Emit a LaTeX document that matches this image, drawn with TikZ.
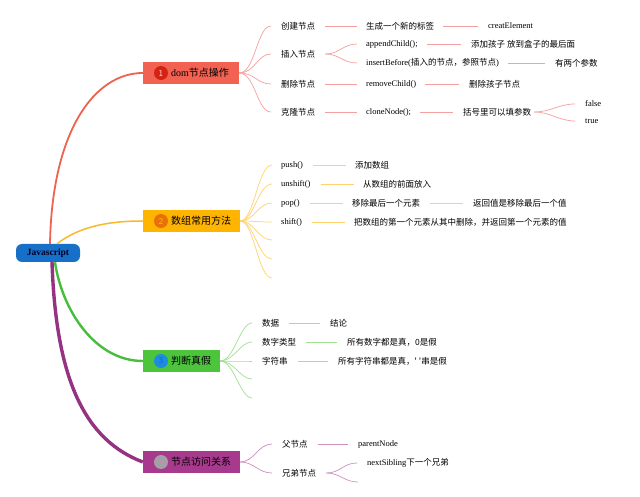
\documentclass[tikz,border=0pt]{standalone}
\usepackage{fontspec}
\setmainfont{Liberation Serif}
\newfontfamily\cjk{Noto Sans CJK SC}
\definecolor{rootblue}{RGB}{22,112,200}
\definecolor{redbox}{RGB}{241,98,82}
\definecolor{redline}{RGB}{236,100,80}
\definecolor{redleaf}{RGB}{244,160,160}
\definecolor{redcirc}{RGB}{212,34,20}
\definecolor{orbox}{RGB}{255,180,0}
\definecolor{orline}{RGB}{250,185,40}
\definecolor{orleaf}{RGB}{255,210,110}
\definecolor{orcirc}{RGB}{232,112,10}
\definecolor{grbox}{RGB}{76,196,60}
\definecolor{grline}{RGB}{70,190,60}
\definecolor{grleaf}{RGB}{160,225,145}
\definecolor{grcirc}{RGB}{30,140,220}
\definecolor{pubox}{RGB}{168,58,142}
\definecolor{puline}{RGB}{150,50,130}
\definecolor{puleaf}{RGB}{205,145,190}
\definecolor{pucirc}{RGB}{165,160,165}
\begin{document}
\begin{tikzpicture}[x=1pt,y=-1pt,
  leaf/.style={anchor=west, inner sep=0pt, font=\fontsize{8.5}{10}\selectfont},
  mbox/.style={minimum height=22pt, inner sep=0pt},
  mtext/.style={anchor=west, inner sep=0pt, font=\fontsize{10}{12}\selectfont},
  circ/.style={circle, minimum size=14pt, inner sep=0pt, font=\fontsize{9}{10}\selectfont\sffamily},
  l1/.style={draw=redleaf, line width=0.7pt},
  l2/.style={draw=orleaf, line width=0.7pt},
  l3/.style={draw=grleaf, line width=0.7pt},
  l4/.style={draw=puleaf, line width=0.7pt},
  fan/.style={line width=0.7pt}
]
\useasboundingbox (0,0) rectangle (640,497);
\fill[white] (0,0) rectangle (640,497);

% root
\node[fill=rootblue, rounded corners=6pt, minimum width=64pt, minimum height=18pt, inner sep=0pt,
      font=\fontsize{9.5}{11}\selectfont\bfseries, text=black!85!blue] (root) at (48,253) {Javascript};

% main boxes
\node[mbox, fill=redbox, minimum width=96pt] (b1) at (191,73) {};
\node[mbox, fill=orbox, minimum width=97pt] (b2) at (191.5,221) {};
\node[mbox, fill=grbox, minimum width=77pt] (b3) at (181.5,361) {};
\node[mbox, fill=pubox, minimum width=97pt] (b4) at (191.5,462) {};

\node[circ, fill=redcirc, text=white!85!red] (c1) at (161,73) {1};
\node[circ, fill=orcirc, text=orange!50!yellow] (c2) at (161,221) {2};
\node[circ, fill=grcirc, text=blue!60!cyan] (c3) at (161,361) {3};
\node[circ, fill=pucirc, text=pubox!60!white] (c4) at (161,462) {4};

\node[mtext] (t1) at (171,73) {dom{\cjk 节点操作}};
\node[mtext] (t2) at (171,221) {\cjk 数组常用方法};
\node[mtext] (t3) at (171,361) {\cjk 判断真假};
\node[mtext] (t4) at (171,462) {\cjk 节点访问关系};

% root connectors
\draw[redline, line width=1.8pt] ([xshift=2pt]root.north) .. controls (52,130) and (95,73) .. (b1.west);
\draw[orline, line width=1.5pt] ([xshift=9pt]root.north) .. controls (80,226) and (110,221) .. (b2.west);
\draw[grline, line width=2.4pt] ([xshift=7pt]root.south) .. controls (62,310) and (95,361) .. (b3.west);
\draw[puline, line width=3.4pt] ([xshift=4pt]root.south) .. controls (56,380) and (85,440) .. (b4.west);

% ---------- branch 1 ----------
\node[leaf] (k11) at (281,26) {\cjk 创建节点};
\node[leaf] (k12) at (281,54) {\cjk 插入节点};
\node[leaf] (k13) at (281,84) {\cjk 删除节点};
\node[leaf] (k14) at (281,112) {\cjk 克隆节点};
\foreach \k in {k11,k12,k13,k14}
  \draw[l1] (b1.east) .. controls +(16,0) and +(-14,0) .. ([xshift=-10pt]\k.west);

\node[leaf] (l11) at (366,26) {\cjk 生成一个新的标签};
\node[leaf] (l12a) at (366,44) {appendChild();};
\node[leaf] (l12b) at (366,63) {insertBefore({\cjk 插入的节点，参照节点})};
\node[leaf] (l13) at (366,84) {removeChild()};
\node[leaf] (l14) at (366,112) {cloneNode();};

\draw[l1] ([xshift=10pt]k11.east) -- ([xshift=-9pt]l11.west);
\draw[l1] ([xshift=10pt]k13.east) -- ([xshift=-9pt]l13.west);
\draw[l1] ([xshift=10pt]k14.east) -- ([xshift=-9pt]l14.west);
\draw[l1] ([xshift=10pt]k12.east) .. controls +(14,0) and +(-14,0) .. ([xshift=-9pt]l12a.west);
\draw[l1] ([xshift=10pt]k12.east) .. controls +(14,0) and +(-14,0) .. ([xshift=-9pt]l12b.west);

\node[leaf] (m11) at (488,26) {creatElement};
\node[leaf] (m12a) at (471,44) {\cjk 添加孩子 放到盒子的最后面};
\node[leaf] (m12b) at (555,63) {\cjk 有两个参数};
\node[leaf] (m13) at (469,84) {\cjk 删除孩子节点};
\node[leaf] (m14) at (463,112) {\cjk 括号里可以填参数};

\draw[l1] ([xshift=9pt]l11.east) -- ([xshift=-10pt]m11.west);
\draw[l1] ([xshift=9pt]l12a.east) -- ([xshift=-10pt]m12a.west);
\draw[l1] ([xshift=9pt]l12b.east) -- ([xshift=-10pt]m12b.west);
\draw[l1] ([xshift=9pt]l13.east) -- ([xshift=-10pt]m13.west);
\draw[l1] ([xshift=9pt]l14.east) -- ([xshift=-10pt]m14.west);

\node[leaf] (n14a) at (585,104) {false};
\node[leaf] (n14b) at (585,121) {true};
\draw[l1] ([xshift=3pt]m14.east) .. controls +(16,0) and +(-16,0) .. ([xshift=-10pt]n14a.west);
\draw[l1] ([xshift=3pt]m14.east) .. controls +(16,0) and +(-16,0) .. ([xshift=-10pt]n14b.west);

% ---------- branch 2 ----------
\node[leaf] (k21) at (281,165) {push()};
\node[leaf] (k22) at (281,184) {unshift()};
\node[leaf] (k23) at (281,203) {pop()};
\node[leaf] (k24) at (281,222) {shift()};
\coordinate (e21) at (272,240);
\coordinate (e22) at (272,259);
\coordinate (e23) at (272,278);
\foreach \k in {k21,k22,k23,k24}
  \draw[l2] (b2.east) .. controls +(14,0) and +(-14,0) .. ([xshift=-9pt]\k.west);
\foreach \k in {e21,e22,e23}
  \draw[l2] (b2.east) .. controls +(14,0) and +(-14,0) .. (\k);

\node[leaf] (l21) at (355,165) {\cjk 添加数组};
\node[leaf] (l22) at (363,184) {\cjk 从数组的前面放入};
\node[leaf] (l23) at (352,203) {\cjk 移除最后一个元素};
\node[leaf] (l24) at (354,222) {\cjk 把数组的第一个元素从其中删除，并返回第一个元素的值};
\node[leaf] (m23) at (473,203) {\cjk 返回值是移除最后一个值};

\draw[l2] ([xshift=10pt]k21.east) -- ([xshift=-9pt]l21.west);
\draw[l2] ([xshift=10pt]k22.east) -- ([xshift=-9pt]l22.west);
\draw[l2] ([xshift=10pt]k23.east) -- ([xshift=-9pt]l23.west);
\draw[l2] ([xshift=10pt]k24.east) -- ([xshift=-9pt]l24.west);
\draw[l2] ([xshift=10pt]l23.east) -- ([xshift=-10pt]m23.west);

% ---------- branch 3 ----------
\node[leaf] (k31) at (262,323) {\cjk 数据};
\node[leaf] (k32) at (262,342) {\cjk 数字类型};
\node[leaf] (k33) at (262,361) {\cjk 字符串};
\coordinate (e31) at (252,379);
\coordinate (e32) at (252,398);
\foreach \k in {k31,k32,k33}
  \draw[l3] (b3.east) .. controls +(14,0) and +(-12,0) .. ([xshift=-10pt]\k.west);
\foreach \k in {e31,e32}
  \draw[l3] (b3.east) .. controls +(14,0) and +(-12,0) .. (\k);

\node[leaf] (l31) at (330,323) {\cjk 结论};
\node[leaf] (l32) at (347,342) {\cjk 所有数字都是真，0是假};
\node[leaf] (l33) at (338,361) {\cjk 所有字符串都是真，' '串是假};
\draw[l3] ([xshift=10pt]k31.east) -- ([xshift=-10pt]l31.west);
\draw[l3] ([xshift=10pt]k32.east) -- ([xshift=-10pt]l32.west);
\draw[l3] ([xshift=10pt]k33.east) -- ([xshift=-10pt]l33.west);

% ---------- branch 4 ----------
\node[leaf] (k41) at (282,444) {\cjk 父节点};
\node[leaf] (k42) at (282,473) {\cjk 兄弟节点};
\foreach \k in {k41,k42}
  \draw[l4] (b4.east) .. controls +(14,0) and +(-14,0) .. ([xshift=-10pt]\k.west);

\node[leaf] (l41) at (358,444) {parentNode};
\node[leaf] (l42) at (367,463) {nextSibling{\cjk 下一个兄弟}};
\coordinate (e41) at (358,482);
\draw[l4] ([xshift=10pt]k41.east) -- ([xshift=-10pt]l41.west);
\draw[l4] ([xshift=10pt]k42.east) .. controls +(14,0) and +(-14,0) .. ([xshift=-10pt]l42.west);
\draw[l4] ([xshift=10pt]k42.east) .. controls +(14,0) and +(-14,0) .. (e41);
\end{tikzpicture}
\end{document}
